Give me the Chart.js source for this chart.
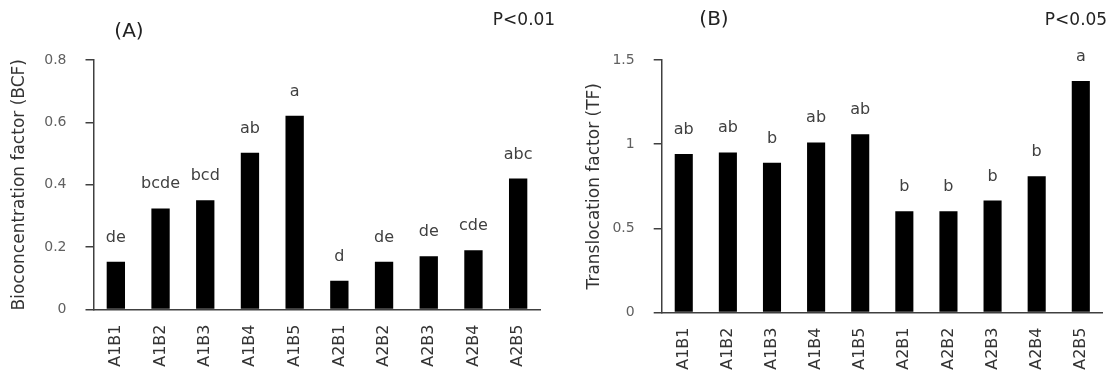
<!DOCTYPE html>
<html>
<head>
<meta charset="utf-8">
<script src="https://cdn.jsdelivr.net/npm/chart.js@4.4.1/dist/chart.umd.min.js"></script>
<style>
  body { margin: 0; background: #fff; width: 1115px; height: 378px; position: relative; overflow: hidden; font-family: "DejaVu Sans", sans-serif; }
  .box { position: absolute; top: 0; height: 378px; }
  #boxA { left: 0; width: 555px; }
  #boxB { left: 555px; width: 560px; }
  .lbl { position: absolute; color: #222; white-space: nowrap; transform: translate(-50%, -50%); }
</style>
</head>
<body>
<div class="box" id="boxA"><canvas id="chartA" width="555" height="378"></canvas></div>
<div class="box" id="boxB"><canvas id="chartB" width="560" height="378"></canvas></div>
<div class="lbl" style="left:129px;top:30px;font-size:20px">(A)</div>
<div class="lbl" style="left:524px;top:19px;font-size:17px">P&lt;0.01</div>
<div class="lbl" style="left:714px;top:18px;font-size:20px">(B)</div>
<div class="lbl" style="left:1076px;top:19px;font-size:17px">P&lt;0.05</div>
<script>
const groups = ['A1B1', 'A1B2', 'A1B3', 'A1B4', 'A1B5', 'A2B1', 'A2B2', 'A2B3', 'A2B4', 'A2B5'];

// bioconcentration factor (BCF)
const bcf = [0.153, 0.324, 0.35, 0.503, 0.621, 0.092, 0.153, 0.171, 0.19, 0.42];
const bcfLetters = ['de', 'bcde', 'bcd', 'ab', 'a', 'd', 'de', 'de', 'cde', 'abc'];
const bcfTicks = [0, 0.2, 0.4, 0.6, 0.8];

// translocation factor (TF)
const tf = [0.941, 0.951, 0.89, 1.01, 1.059, 0.602, 0.602, 0.665, 0.81, 1.375];
const tfLetters = ['ab', 'ab', 'b', 'ab', 'ab', 'b', 'b', 'b', 'b', 'a'];
const tfTicks = [0, 0.5, 1, 1.5];

const dark = '#404040';

// letters over each bar
function letterPlugin(letters) {
  return {
    id: 'letters',
    afterDatasetsDraw(chart) {
      const ctx = chart.ctx;
      ctx.save();
      ctx.font = '16px "DejaVu Sans"';
      ctx.fillStyle = dark;
      ctx.textAlign = 'center';
      ctx.textBaseline = 'alphabetic';
      chart.getDatasetMeta(0).data.forEach((bar, i) => {
        ctx.fillText(letters[i], bar.x, bar.y - 20);
      });
      ctx.restore();
    }
  };
}

function makeChart(el, values, letters, ticks, title, yWidth, xHeight, padRight, titlePad) {
  return new Chart(document.getElementById(el), {
    type: 'bar',
    data: {
      labels: groups,
      datasets: [{
        data: values,
        backgroundColor: '#000',
        borderWidth: 0,
        barPercentage: 0.41,
        categoryPercentage: 1.0,
      }]
    },
    options: {
      responsive: false,
      animation: false,
      layout: { padding: { top: 60, right: padRight, left: 0, bottom: 0 } },
      plugins: { legend: { display: false }, tooltip: { enabled: false } },
      scales: {
        x: {
          grid: { display: false, drawTicks: false },
          border: { display: true, color: dark, width: 1.5 },
          ticks: {
            minRotation: 90, maxRotation: 90, padding: 15,
            color: '#333', font: { family: 'DejaVu Sans', size: 16 }
          },
          afterFit: s => { s.height = xHeight; }
        },
        y: {
          min: ticks[0],
          max: ticks[ticks.length - 1],
          afterBuildTicks: s => { s.ticks = ticks.map(v => ({ value: v })); },
          grid: { display: true, drawOnChartArea: false, drawTicks: true, tickLength: 8, tickColor: dark, lineWidth: 1.5 },
          border: { display: true, color: dark, width: 1.5 },
          ticks: {
            padding: 19, color: '#606060',
            font: { family: 'DejaVu Sans', size: 14 },
            callback: v => String(v)
          },
          title: {
            display: true, text: title, color: '#333',
            font: { family: 'DejaVu Sans', size: 17 },
            padding: { top: titlePad, bottom: 0 }
          },
          afterFit: s => { s.width = yWidth; }
        }
      }
    },
    plugins: [letterPlugin(letters)]
  });
}

makeChart('chartA', bcf, bcfLetters, bcfTicks, 'Bioconcentration factor (BCF)', 93.5, 68.5, 14.5, 9);
makeChart('chartB', tf, tfLetters, tfTicks, 'Translocation factor (TF)', 106.7, 65.5, 0, 29);
</script>
</body>
</html>
